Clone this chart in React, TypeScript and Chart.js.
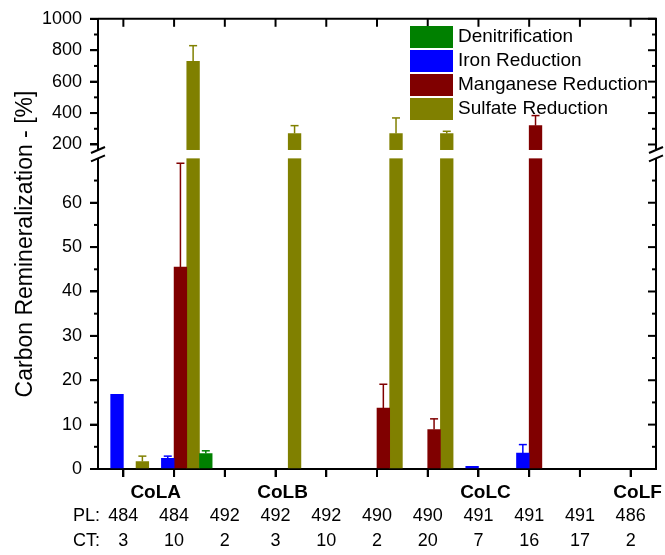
import React, { useEffect, useRef } from 'react'
import { Chart, registerables, LinearScale } from 'chart.js'

Chart.register(...registerables)

// x categories: piston (PL) and core section (CT)
const plNumbers = ['484', '484', '492', '492', '492', '490', '490', '491', '491', '491', '486']
const ctNumbers = ['3', '10', '2', '3', '10', '2', '20', '7', '16', '17', '2']
const colonies = [
  { name: 'CoLA', first: 0, last: 1 },
  { name: 'CoLB', first: 2, last: 4 },
  { name: 'CoLC', first: 5, last: 9 },
  { name: 'CoLF', first: 10, last: 10 }
]

const seriesNames = ['Denitrification', 'Iron Reduction', 'Manganese Reduction', 'Sulfate Reduction']
const seriesColors = ['#008000', '#0000ff', '#800000', '#808000']

const denitrification = [null, null, 3.5, null, null, null, null, null, null, null, null]
const denitrificationErr = [null, null, 0.6, null, null, null, null, null, null, null, null]
const ironReduction = [16.8, 2.4, null, null, null, null, null, 0.6, 3.6, null, null]
const ironReductionErr = [null, 0.5, null, null, null, null, null, null, 1.9, null, null]
const manganeseReduction = [null, 45.5, null, null, null, 13.7, 8.9, null, 320, null, null]
const manganeseReductionErr = [null, 23.4, null, null, null, 5.4, 2.4, null, 64, null, null]
const sulfateReduction = [1.7, 729, null, 270, null, 270, 270, null, null, null, null]
const sulfateReductionErr = [1.2, 100, null, 50, null, 99, 14, null, null, null, null]

const seriesValues = [denitrification, ironReduction, manganeseReduction, sulfateReduction]
const seriesErrors = [denitrificationErr, ironReductionErr, manganeseReductionErr, sulfateReductionErr]

// broken y axis
const lowerTicks = [0, 10, 20, 30, 40, 50, 60]
const upperTicks = [200, 400, 600, 800, 1000]
const lowerMinor = [5, 15, 25, 35, 45, 55, 65]
const upperMinor = [300, 500, 700, 900]
const LOW_MAX = 70
const HIGH_MIN = 165
const TOP = 1000
const LOW_FRAC = 0.69
const GAP_FRAC = 0.0186

const FONT = "'Liberation Sans', Arial, sans-serif"

function toDecimal(v: number) {
  if (v <= LOW_MAX) return (v / LOW_MAX) * LOW_FRAC
  if (v >= HIGH_MIN) return LOW_FRAC + GAP_FRAC + ((v - HIGH_MIN) / (TOP - HIGH_MIN)) * (1 - LOW_FRAC - GAP_FRAC)
  return LOW_FRAC + ((v - LOW_MAX) / (HIGH_MIN - LOW_MAX)) * GAP_FRAC
}

function fromDecimal(d: number) {
  if (d <= LOW_FRAC) return (d / LOW_FRAC) * LOW_MAX
  if (d >= LOW_FRAC + GAP_FRAC) return HIGH_MIN + ((d - LOW_FRAC - GAP_FRAC) / (1 - LOW_FRAC - GAP_FRAC)) * (TOP - HIGH_MIN)
  return LOW_MAX + ((d - LOW_FRAC) / GAP_FRAC) * (HIGH_MIN - LOW_MAX)
}

class BrokenLinearScale extends LinearScale {
  static id = 'brokenLinear'
  buildTicks() {
    return [...lowerTicks, ...upperTicks].map(value => ({ value }))
  }
  getPixelForValue(value: number) {
    if (value === null || value === undefined) return NaN
    return this.getPixelForDecimal(toDecimal(value))
  }
  getValueForPixel(pixel: number) {
    return fromDecimal(this.getDecimalForPixel(pixel))
  }
}
Chart.register(BrokenLinearScale)

const line = (ctx: CanvasRenderingContext2D, x1: number, y1: number, x2: number, y2: number) => {
  ctx.beginPath()
  ctx.moveTo(x1, y1)
  ctx.lineTo(x2, y2)
  ctx.stroke()
}

const decorPlugin = {
  id: 'decor',
  afterDatasetsDraw(chart: any) {
    const ctx = chart.ctx
    const y = chart.scales.y
    ctx.save()
    seriesValues.forEach((vals, i) => {
      const meta = chart.getDatasetMeta(i)
      ctx.strokeStyle = seriesColors[i]
      ctx.lineWidth = 1.5
      vals.forEach((v, j) => {
        const err = seriesErrors[i][j]
        if (v === null || err === null) return
        const bar = meta.data[j]
        const yTop = y.getPixelForValue(v + err)
        line(ctx, bar.x, bar.y, bar.x, yTop)
        line(ctx, bar.x - 4, yTop, bar.x + 4, yTop)
      })
    })
    ctx.restore()
  },
  afterDraw(chart: any) {
    const ctx = chart.ctx
    const { left, right, top, bottom } = chart.chartArea
    const x = chart.scales.x
    const y = chart.scales.y
    ctx.save()
    ctx.strokeStyle = '#000'
    ctx.lineWidth = 2
    // top and right frame
    line(ctx, left, top, right + 1, top)
    line(ctx, right, top, right, bottom)
    // top ticks (inward), bottom ticks (outward)
    plNumbers.forEach((_, i) => {
      const px = x.getPixelForValue(i)
      line(ctx, px, top, px, top + 8)
      line(ctx, px, bottom, px, bottom + 8)
    })
    // major ticks: left outward, right inward
    ;[...lowerTicks, ...upperTicks].forEach(v => {
      const py = y.getPixelForValue(v)
      line(ctx, left, py, left - 8, py)
      line(ctx, right, py, right - 8, py)
    })
    // minor ticks
    ;[...lowerMinor, ...upperMinor].forEach(v => {
      const py = y.getPixelForValue(v)
      line(ctx, left, py, left - 4, py)
      line(ctx, right, py, right - 4, py)
    })
    // axis break gap
    const yA = y.getPixelForValue(HIGH_MIN)
    const yB = y.getPixelForValue(LOW_MAX)
    ctx.fillStyle = '#fff'
    ctx.fillRect(left - 3, yA, right - left + 6, yB - yA)
    ;[left, right].forEach(ax => {
      line(ctx, ax - 7, yA + 3, ax + 7, yA - 3)
      line(ctx, ax - 7, yB + 3, ax + 7, yB - 3)
    })

    // legend
    ctx.textBaseline = 'middle'
    ctx.textAlign = 'left'
    ctx.font = `19px ${FONT}`
    seriesNames.forEach((name, i) => {
      const ry = 26 + i * 24
      ctx.fillStyle = seriesColors[i]
      ctx.fillRect(410, ry, 43, 22)
      ctx.fillStyle = '#000'
      ctx.fillText(name, 458, ry + 11)
    })

    // category labels
    ctx.textAlign = 'center'
    ctx.fillStyle = '#000'
    ctx.font = `bold 19px ${FONT}`
    colonies.forEach(c => {
      const cx = (x.getPixelForValue(c.first) + x.getPixelForValue(c.last)) / 2 + 7
      ctx.fillText(c.name, cx, 493)
    })
    ctx.font = `18px ${FONT}`
    plNumbers.forEach((pl, i) => {
      const px = x.getPixelForValue(i)
      ctx.fillText(pl, px, 516)
      ctx.fillText(ctNumbers[i], px, 541)
    })
    ctx.textAlign = 'right'
    ctx.fillText('PL:', 100, 516)
    ctx.fillText('CT:', 100, 541)

    // y title
    ctx.translate(26, 244)
    ctx.rotate(-Math.PI / 2)
    ctx.textAlign = 'center'
    ctx.font = `23px ${FONT}`
    ctx.fillText('Carbon Remineralization - [%]', 0, 0)
    ctx.restore()
  }
}

const App: React.FC = () => {
  const chartRef = useRef<HTMLCanvasElement | null>(null)

  useEffect(() => {
    document.body.style.margin = '0'
    if (!chartRef.current) return
    const chart = new Chart(chartRef.current, {
      type: 'bar',
      data: {
        labels: plNumbers.map((pl, i) => `${pl}/${ctNumbers[i]}`),
        datasets: seriesNames.map((name, i) => ({
          label: name,
          data: seriesValues[i],
          backgroundColor: seriesColors[i],
          borderWidth: 0,
          barPercentage: 1,
          categoryPercentage: 1
        }))
      },
      options: {
        responsive: false,
        animation: false,
        events: [],
        layout: { padding: { top: 17, right: 9, left: 0, bottom: 0 } },
        plugins: {
          legend: { display: false },
          tooltip: { enabled: false }
        },
        scales: {
          x: {
            offset: true,
            grid: {
              offset: false,
              drawOnChartArea: false,
              drawTicks: true,
              tickLength: 8,
              color: '#000',
              lineWidth: 2
            },
            border: { display: true, color: '#000', width: 2 },
            ticks: { display: false },
            afterFit: (s: any) => {
              s.height = 86
            }
          },
          y: {
            type: 'brokenLinear' as any,
            min: 0,
            max: TOP,
            grid: { drawOnChartArea: false, tickLength: 8, color: '#000', lineWidth: 2 },
            border: { display: true, color: '#000', width: 2 },
            ticks: {
              autoSkip: false,
              padding: 8,
              color: '#000',
              font: { family: FONT, size: 18 },
              callback: (v: any) => String(v)
            },
            afterFit: (s: any) => {
              s.width = 98
            }
          }
        }
      },
      plugins: [decorPlugin]
    } as any)

    return () => {
      chart.destroy()
    }
  }, [])

  return <canvas ref={chartRef} width={665} height={555} style={{ display: 'block' }} />
}

export default App
